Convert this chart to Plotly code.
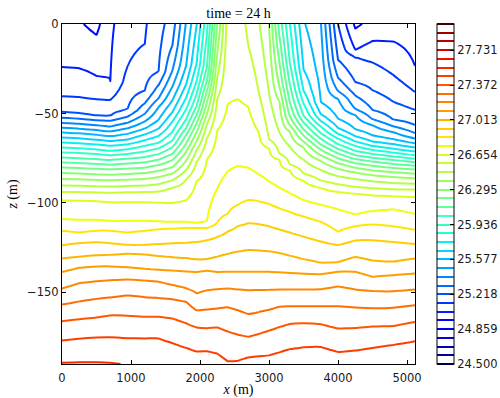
import numpy as np
import plotly.graph_objects as go

# Section stations along x (m)
x_stations = [0, 250, 500, 700, 950, 1200, 1400, 1600, 1800, 1950, 2100, 2250, 2400,
              2550, 2700, 2850, 3000, 3150, 3300, 3500, 3750, 4000, 4250, 4500, 4800, 5115]

# Surface value at each station
surface_value = [24.985, 24.958, 24.922, 25.025, 25.083, 25.119, 25.182, 25.263, 25.496, 25.662,
                 25.909, 26.295, 26.600, 26.609, 26.546, 26.483, 26.385, 26.079, 25.846, 25.586,
                 25.492, 25.128, 24.931, 24.976, 24.985, 24.994]

# Contour levels: 40 levels from 24.5 to 28.0
level_min, level_max, n_levels = 24.5, 28.0, 40

# Depth (m) at which contour level k crosses each station; None where it is not crossed
N = None
isoline_depth = {
    5:  [N, N, -6, N, N, N, N, N, N, N, N, N, N, N, N, N, N, N, N, N, N, N, -2.5, N, N, N],
    6:  [-24, -24.8, -29, -32, N, N, N, N, N, N, N, N, N, N, N, N, N, N, N, N, N, N, -14.5, -9.5, -9.7, -23.5],
    7:  [-40.5, -40.9, -42, -42.4, -23.7, -11, N, N, N, N, N, N, N, N, N, N, N, N, N, N, N, N, -18.5, -21.5, -28.5, -38],
    8:  [-49, -49.9, -51, -51.2, -47.6, -37.2, -26.6, N, N, N, N, N, N, N, N, N, N, N, N, N, N, -20, -32.5, -37, -43.5, -48],
    9:  [-52.5, -53, -53.8, -54.1, -51.8, -44.3, -34.1, -11.9, N, N, N, N, N, N, N, N, N, N, N, N, N, -30, -40, -48, -53.5, -56.5],
    10: [-55.3, -55.8, -56.6, -57.3, -55.2, -50.2, -41.5, -26, N, N, N, N, N, N, N, N, N, N, N, N, N, -37.5, -47.5, -53.2, -57.2, -61],
    11: [-58, -58.5, -59.3, -60, -58.3, -54.4, -46.4, -35, N, N, N, N, N, N, N, N, N, N, N, N, N, -42, -50.9, -56.5, -60.4, -64],
    12: [-60.6, -61.1, -61.9, -62.6, -61.4, -58.4, -53.5, -42.6, -23.2, N, N, N, N, N, N, N, N, N, N, N, -43.6, -52.9, -58.8, -62.3, -64.4, -66.7],
    13: [-63.4, -63.9, -64.7, -65.4, -64.6, -61.7, -58.4, -49.3, -33.6, -1, N, N, N, N, N, N, N, N, N, -25.5, -50.4, -58.1, -62.7, -65.7, -67.1, -69],
    14: [-66.2, -66.6, -67.3, -68, -67.2, -64.9, -62.5, -54.5, -41.2, -22.2, N, N, N, N, N, N, N, N, N, -37.3, -54.3, -61.4, -65.6, -68.2, -69.7, -71.3],
    15: [-69, -69.4, -70.1, -70.8, -70, -68.1, -66.4, -60.2, -47.6, -32, N, N, N, N, N, N, N, N, N, -44.3, -57.3, -64.1, -68.1, -70.4, -71.9, -73.4],
    16: [-71.8, -72.1, -72.7, -73.3, -72.6, -71.2, -69.5, -65, -53.2, -39.3, -5.7, N, N, N, N, N, N, N, -21.3, -51.2, -61, -67.2, -70.9, -72.6, -74, -75.3],
    17: [-74.6, -75, -75.5, -76, -75.3, -74.3, -72.7, -68.8, -58.1, -46, -24.2, N, N, N, N, N, N, N, -33.4, -55, -64.1, -69.8, -73.3, -74.7, -76, -77.2],
    18: [-77.4, -77.7, -78.2, -78.6, -78, -77.3, -75.8, -72.5, -61.9, -50.9, -31.7, N, N, N, N, N, N, -6.7, -43.7, -58.9, -67.3, -72.3, -75.5, -76.9, -78.2, -79.2],
    19: [-80.2, -80.5, -80.9, -81.2, -80.8, -80.2, -78.8, -76, -66.7, -55.5, -37.5, N, N, N, N, N, N, -21.4, -51.4, -62.3, -70.2, -75, -77.8, -79.2, -80.4, -81.3],
    20: [-83.3, -83.6, -84, -84.2, -83.8, -83.3, -82, -80, -71.3, -60.5, -43.6, N, N, N, N, N, N, -34.9, -56.4, -65.7, -73.3, -77.8, -80.3, -81.8, -82.8, -83.6],
    21: [-86.6, -86.8, -87.1, -87.3, -87, -86.6, -85.5, -83.5, -76.3, -65.5, -50, -16.2, N, N, N, N, N, -43.3, -60.1, -69, -76.4, -80.8, -83, -84.5, -85.5, -86.2],
    22: [-90.3, -90.4, -90.7, -90.8, -90.5, -90.3, -89.5, -87.4, -81.5, -70.4, -55.9, -29.6, N, N, N, N, -38.4, -60.5, -68.5, -75.9, -81.5, -85.1, -86.6, -87.9, -88.9, -89.2],
    23: [-93.9, -93.9, -94.1, -94.2, -94, -93.9, -93.5, -91.5, -86.7, -77.2, -63.7, -41.8, N, N, -12, -38, -64.5, -72.5, -78.5, -83.5, -87.5, -89.6, -91, -91.8, -92.3, -92.5],
    24: [-98.4, -98.6, -99, -99.5, -99.5, -99.5, -99.8, -100, -98.4, -88, -75.5, -59.5, -45, -42, -46.5, -60.5, -69.5, -76, -81.7, -87.5, -91.5, -93.8, -94.8, -95.6, -96.2, -96.6],
    25: [-109, -109.5, -109.5, -110, -110, -110, -110.5, -110.8, -110.8, -111, -110, -92, -82.5, -79.5, -80.5, -84, -88, -91.5, -94.5, -98.5, -101, -103.5, -106.5, -104.5, -103.5, -106],
    26: [-115.5, -116.5, -115.5, -115.5, -116.5, -115.5, -114.5, -114.2, -114, -114, -114, -111, -106, -101, -98.5, -99, -100.5, -103, -105, -107.5, -110.5, -116, -113, -112, -113, -115],
    27: [-123.6, -122.5, -122, -122.5, -123.5, -123.5, -123, -122.5, -122.2, -121.8, -120.8, -119, -116, -113, -111.3, -111.8, -113, -114.8, -116.5, -118.8, -121.5, -123.5, -121, -120.8, -121.8, -123],
    28: [-131, -130, -129.3, -129, -128.3, -128.8, -129.6, -130.4, -130.8, -131.6, -131.5, -130, -128.5, -127.2, -126.4, -126.6, -127, -128, -129.5, -131.5, -133.5, -133, -130.2, -132.2, -132.8, -131],
    29: [-138.5, -136.2, -135.5, -135.4, -136, -136.8, -137.3, -137.8, -138.2, -138.4, -137.8, -138.5, -138.5, -138.5, -138.5, -138.5, -138.5, -138.8, -139.1, -139.5, -139.8, -138.3, -138.4, -141.2, -140.3, -139.4],
    30: [-147.8, -144.8, -143.7, -143.2, -142.7, -143.2, -144, -145.8, -147.7, -150.5, -148.8, -148.2, -147.8, -148.3, -148.8, -148.6, -148.5, -148.4, -148.4, -148.4, -148.2, -146.6, -148.3, -149.2, -149.4, -148.4],
    31: [-156.8, -155, -153.6, -152.8, -151.6, -152.6, -153.1, -153.8, -155.2, -160, -159.5, -159, -158.2, -160, -162, -161, -159.7, -158, -157.7, -157.7, -157.7, -157.7, -158.4, -158.8, -158.5, -157.2],
    32: [-166.1, -165, -164, -162.8, -163, -163.5, -163.6, -164.5, -167.2, -169.5, -170, -169.5, -171.8, -173.6, -174.8, -173.2, -171.3, -169.3, -167.6, -167.2, -167.8, -170.2, -169.9, -169.1, -168.7, -166.5],
    33: [-176.8, -175.8, -175.2, -175.1, -175.5, -175.6, -175.6, -178.3, -181, -183, -182.8, -184.2, -188.5, -188.2, -186.3, -185.7, -185.2, -183.5, -181.7, -180.7, -180.5, -183.3, -182.5, -181, -179.3, -177.2],
    34: [-189.3, -189, -189, -189.3, -190.5, -193, -194, -196, -198, -199, -199, -200, -202, -202, -200, -199, -198, -196.5, -195, -194, -194, -196, -195, -194, -192.5, -191],
}

# Colorbar tick labels (every fourth level)
cbar_ticks = [24.500, 24.859, 25.218, 25.577, 25.936, 26.295, 26.654, 27.013, 27.372, 27.731]

levels = level_min + np.arange(n_levels) * (level_max - level_min) / (n_levels - 1)
depth = np.arange(0.0, 190.5, 1.0)        # positive down, drawn as -depth

field = np.empty((depth.size, len(x_stations)))
for j in range(len(x_stations)):
    zs, vs = [0.0], [surface_value[j]]
    for k in sorted(isoline_depth):
        d = isoline_depth[k][j]
        if d is not None and levels[k] > vs[-1] and -d > zs[-1]:
            zs.append(-d)
            vs.append(levels[k])
    if zs[-1] < depth[-1]:
        slope = (vs[-1] - vs[-2]) / (zs[-1] - zs[-2])
        zs.append(depth[-1] + 5.0)
        vs.append(vs[-1] + slope * (depth[-1] + 5.0 - zs[-2]))
    field[:, j] = np.interp(depth, zs, vs)

# matplotlib "jet"
jet = [
    [0.0, "rgb(0,0,128)"], [0.11, "rgb(0,0,255)"], [0.125, "rgb(0,0,255)"],
    [0.34, "rgb(0,219,255)"], [0.35, "rgb(0,230,247)"], [0.375, "rgb(21,255,226)"],
    [0.64, "rgb(239,255,8)"], [0.65, "rgb(247,246,0)"], [0.66, "rgb(255,236,0)"],
    [0.89, "rgb(255,19,0)"], [0.91, "rgb(232,0,0)"], [1.0, "rgb(128,0,0)"],
]

tick_font = dict(family="DejaVu Sans", size=11.5, color="#1a1a1a")
serif = "Liberation Serif"

plot_w = 500 - 62 - 85

fig = go.Figure(go.Contour(
    x=x_stations,
    y=-depth,
    z=field,
    colorscale=jet,
    zmin=level_min, zmax=level_max, zauto=False,
    autocontour=False,
    contours=dict(start=level_min, end=level_max,
                  size=(level_max - level_min) / (n_levels - 1),
                  coloring="lines", showlabels=False),
    line=dict(width=2, smoothing=0.6),
    hoverinfo="skip",
    colorbar=dict(
        x=(437 - 62) / plot_w, xanchor="left", xpad=0,
        y=0.5, yanchor="middle", len=1.0, lenmode="fraction", ypad=0,
        thickness=17, outlinewidth=1, outlinecolor="#000",
        tickmode="array", tickvals=cbar_ticks,
        ticktext=[f"{t:.3f}" for t in cbar_ticks],
        ticks="inside", ticklen=4, tickcolor="#000",
        tickfont=tick_font,
    ),
))

axis_common = dict(
    showgrid=False, zeroline=False, showline=True, linecolor="#000", linewidth=1,
    mirror="ticks", ticks="inside", ticklen=4, tickcolor="#000", tickfont=tick_font,
    automargin=False,
)

fig.update_layout(
    width=500, height=398,
    margin=dict(l=62, r=85, t=24, b=34, autoexpand=False),
    paper_bgcolor="white", plot_bgcolor="white",
    title=dict(text="time = 24 h", x=0.5, xref="paper", y=1 - 13 / 398, yanchor="middle",
               font=dict(family=serif, size=14, color="#000")),
    xaxis=dict(range=[0, 5115], tickvals=[0, 1000, 2000, 3000, 4000, 5000],
               ticklabelstandoff=3,
               title=dict(text="<i>x</i> (m)", font=dict(family=serif, size=14, color="#000"), standoff=4),
               **axis_common),
    yaxis=dict(range=[-190, 0], tickvals=[0, -50, -100, -150],
               title=dict(text="<i>z</i> (m)", font=dict(family=serif, size=14, color="#000"), standoff=6),
               **axis_common),
    showlegend=False,
)

fig.write_html("out.html")
